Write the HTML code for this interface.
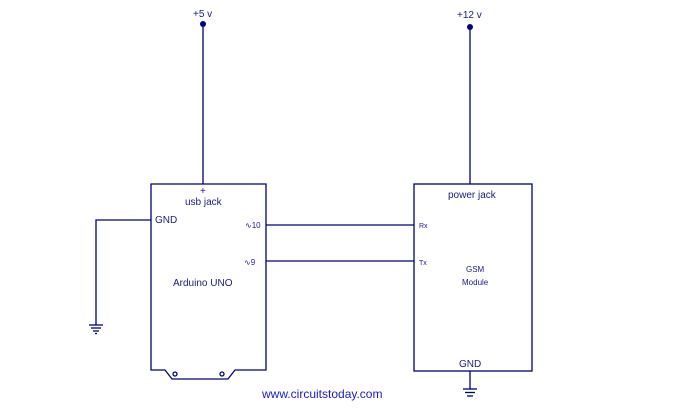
<!DOCTYPE html>
<html><head><style>
body{margin:0;background:#fff;width:681px;height:415px;overflow:hidden}
svg text{font-family:"Liberation Sans",sans-serif;fill:#1a1a80}
</style></head><body>
<svg width="681" height="415" viewBox="0 0 681 415">
<g stroke="#000080" stroke-width="1.3" fill="none">
<line x1="203" y1="24" x2="203" y2="184"/>
<line x1="470" y1="27" x2="470" y2="184"/>
<path d="M151,184 H266 V370 H235 L228,379 H172 L165,370 H151 Z"/>
<rect x="414" y="184" width="118" height="187"/>
<path d="M151,220 H96 V325"/>
<line x1="89" y1="325" x2="103" y2="325"/>
<line x1="91" y1="328" x2="101" y2="328"/>
<line x1="93" y1="331" x2="99" y2="331"/>
<line x1="95" y1="333.5" x2="97" y2="333.5"/>
<line x1="470" y1="371" x2="470" y2="389"/>
<line x1="463" y1="389" x2="477" y2="389"/>
<line x1="465" y1="392.5" x2="475" y2="392.5"/>
<line x1="467" y1="396" x2="473" y2="396"/>
<line x1="266" y1="225" x2="414" y2="225"/>
<line x1="266" y1="261" x2="414" y2="261"/>
<circle cx="175" cy="374" r="2"/>
<circle cx="222" cy="374" r="2"/>
</g>
<circle cx="203" cy="24" r="3" fill="#000080"/>
<circle cx="470" cy="27" r="3" fill="#000080"/>
<text x="193" y="17" font-size="10">+5 v</text>
<text x="457" y="18" font-size="10">+12 v</text>
<text x="200" y="194" font-size="10">+</text>
<text x="185" y="205" font-size="10">usb jack</text>
<text x="155" y="223" font-size="10">GND</text>
<text x="245" y="228" font-size="8">∿10</text>
<text x="244" y="265" font-size="8">∿9</text>
<text x="173" y="286" font-size="10">Arduino UNO</text>
<text x="448" y="198" font-size="10">power jack</text>
<text x="419" y="228" font-size="7">Rx</text>
<text x="419" y="265" font-size="7">Tx</text>
<text x="466" y="272" font-size="8">GSM</text>
<text x="462" y="285" font-size="8">Module</text>
<text x="459" y="367" font-size="10">GND</text>
<text x="262" y="398" font-size="12" style="fill:#1a1ad0">www.circuitstoday.com</text>
</svg>
</body></html>
